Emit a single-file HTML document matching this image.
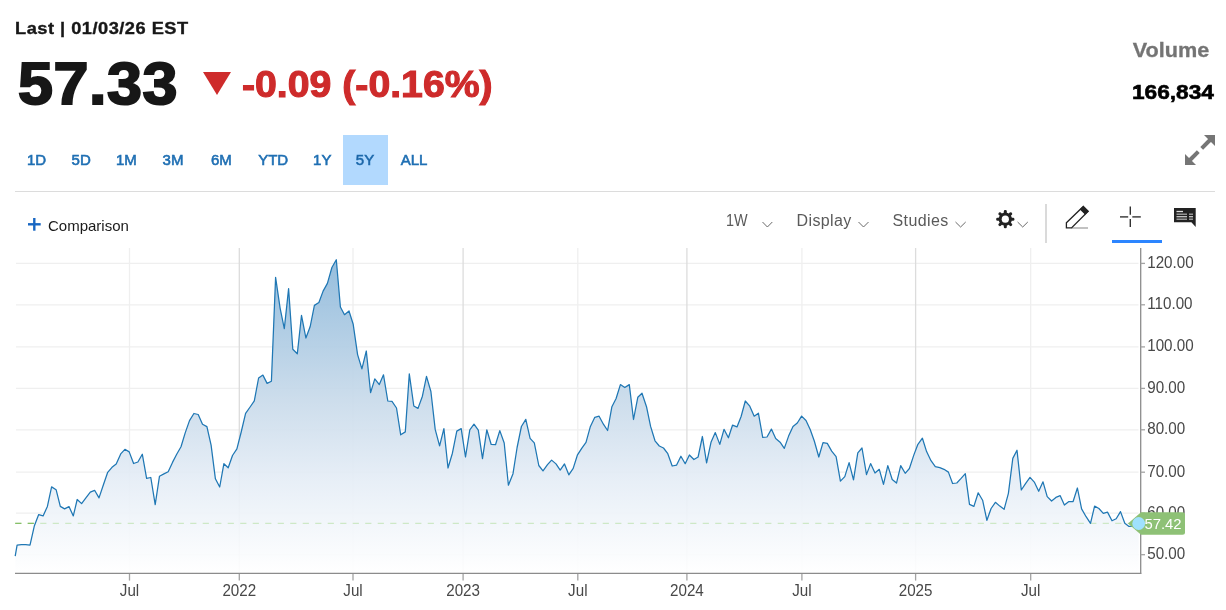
<!DOCTYPE html>
<html lang="en">
<head>
<meta charset="utf-8">
<title>Quote chart</title>
<style>
html,body{margin:0;padding:0;background:#fff;}
body{width:1226px;height:610px;position:relative;overflow:hidden;font-family:"Liberation Sans",sans-serif;color:#171717;}
.abs{position:absolute;white-space:nowrap;line-height:1;}
#last{left:15.3px;top:20px;font-size:16.2px;font-weight:bold;color:#171717;transform-origin:0 0;transform:scaleX(1.125);letter-spacing:.45px;-webkit-text-stroke:.35px #171717;}
#price{left:17.9px;top:55.2px;font-size:59px;font-weight:bold;color:#171717;transform-origin:0 0;letter-spacing:0.5px;transform:scale(1.065,.99);-webkit-text-stroke:2px #171717;}
#chg{left:241.6px;top:66.3px;font-size:37px;font-weight:bold;color:#ce2b2b;transform-origin:0 0;transform:scaleX(1.06);-webkit-text-stroke:1.1px #ce2b2b;}
#tri{left:203px;top:72px;width:0;height:0;border-left:14px solid transparent;border-right:14px solid transparent;border-top:23.5px solid #ce2b2b;}
#vol{right:16.3px;top:39px;font-size:21px;font-weight:bold;color:#747474;transform-origin:100% 0;transform:scaleX(1.03);-webkit-text-stroke:.3px #747474;}
#volv{right:11.6px;top:81px;font-size:21px;font-weight:bold;color:#000;transform-origin:100% 0;transform:scaleX(1.08);-webkit-text-stroke:.6px #000;}
.rng{top:152px;font-size:15px;color:#1f6fb3;font-weight:normal;-webkit-text-stroke:.6px #1f6fb3;transform:translateX(-50%);}
#sel{left:343px;top:135px;width:45px;height:50px;background:#b2d9fe;}
#hr{left:15px;top:191px;width:1200px;height:1px;background:#dcdcdc;}
.tb{top:213px;font-size:16px;color:#5a5a5a;letter-spacing:.4px;}
#cmp{left:48px;top:218px;font-size:15px;color:#1a1a1a;}
svg{position:absolute;left:0;top:0;}
.ax{font-family:"Liberation Sans",sans-serif;font-size:16px;fill:#484848;}
</style>
</head>
<body>
<div class="abs" id="last">Last | 01/03/26 EST</div>
<div class="abs" id="price">57.33</div>
<div class="abs" id="tri"></div>
<div class="abs" id="chg">-0.09 (-0.16%)</div>
<div class="abs" id="vol">Volume</div>
<div class="abs" id="volv">166,834</div>

<div class="abs" id="sel"></div>
<div class="abs rng" style="left:36.5px">1D</div>
<div class="abs rng" style="left:81.2px">5D</div>
<div class="abs rng" style="left:126.4px">1M</div>
<div class="abs rng" style="left:173px">3M</div>
<div class="abs rng" style="left:221.3px">6M</div>
<div class="abs rng" style="left:273.2px">YTD</div>
<div class="abs rng" style="left:322.3px">1Y</div>
<div class="abs rng" style="left:365px;color:#1d5f9e">5Y</div>
<div class="abs rng" style="left:414px">ALL</div>
<div class="abs" id="hr"></div>

<div class="abs" id="cmp">Comparison</div>
<div class="abs tb" id="t1w" style="left:725.5px;letter-spacing:0;transform:scaleX(.9);transform-origin:0 0">1W</div>
<div class="abs tb" id="tdisp" style="left:796.5px">Display</div>
<div class="abs tb" id="tstud" style="left:892.5px">Studies</div>

<svg width="1226" height="610" viewBox="0 0 1226 610">
<defs>
<linearGradient id="g" x1="0" y1="248" x2="0" y2="573" gradientUnits="userSpaceOnUse">
<stop offset="0" stop-color="rgb(135,181,217)" stop-opacity="0.92"/>
<stop offset="0.464" stop-color="rgb(200,218,234)" stop-opacity="0.92"/>
<stop offset="0.712" stop-color="rgb(229,237,246)" stop-opacity="0.92"/>
<stop offset="1" stop-color="#ffffff" stop-opacity="0.92"/>
</linearGradient>
</defs>
<!-- expand icon -->
<g fill="#757575" stroke="none">
<polygon points="1204,135 1215,135 1215,146"/>
<polygon points="1185,154 1185,165 1196,165"/>
</g>
<g stroke="#757575" stroke-width="4" fill="none">
<line x1="1210" y1="140" x2="1201.7" y2="148.3"/>
<line x1="1198.3" y1="151.7" x2="1190" y2="160"/>
</g>
<!-- plus -->
<g stroke="#1766c2" stroke-width="2.4">
<line x1="28" y1="224.3" x2="40.7" y2="224.3"/>
<line x1="34.3" y1="218" x2="34.3" y2="230.7"/>
</g>
<!-- chevrons -->
<g stroke="#6a6a6a" stroke-width="1" fill="none">
<polyline points="762.5,222 767.4,227 772.3,222"/>
<polyline points="858.5,222 863.5,227 868.5,222"/>
<polyline points="955.5,222 960.6,227 965.7,222"/>
<polyline points="1017.6,222 1022.7,227 1027.8,222"/>
</g>
<!-- gear -->
<g transform="translate(1005.3,219.2)" fill="#222">
<g id="teeth">
<rect x="-1.5" y="-9.1" width="3" height="18.2" rx="1.3"/>
<rect x="-1.5" y="-9.1" width="3" height="18.2" rx="1.3" transform="rotate(45)"/>
<rect x="-1.5" y="-9.1" width="3" height="18.2" rx="1.3" transform="rotate(90)"/>
<rect x="-1.5" y="-9.1" width="3" height="18.2" rx="1.3" transform="rotate(135)"/>
</g>
<circle r="6.6"/>
<circle r="3.6" fill="#fff"/>
</g>
<!-- separator -->
<rect x="1045" y="204" width="2" height="39" fill="#dadada"/>
<!-- pencil -->
<line x1="1071.5" y1="228" x2="1088" y2="228" stroke="#9a9a9a" stroke-width="1.2"/>
<polygon points="1066.4,222.8 1083.3,206.5 1088.2,211.3 1071.5,227.9 1066.4,227.9" fill="#fff" stroke="#222" stroke-width="1.3" stroke-linejoin="miter"/>
<polygon points="1080.2,209.4 1083.3,206.5 1088.2,211.3 1085.2,214.3" fill="#222" stroke="#222" stroke-width="1"/>
<!-- crosshair -->
<g stroke="#333" stroke-width="1.4">
<line x1="1130.3" y1="206.6" x2="1130.3" y2="214.8"/>
<line x1="1130.3" y1="219.1" x2="1130.3" y2="227"/>
<line x1="1120" y1="216.9" x2="1128.2" y2="216.9"/>
<line x1="1132.3" y1="216.9" x2="1140.8" y2="216.9"/>
</g>
<rect x="1112" y="240" width="50" height="3" fill="#2c85ff"/>
<!-- comment -->
<g>
<path d="M1174,208 H1195.7 V227 L1191.4,222.2 H1174 Z" fill="#222"/>
<g stroke="#aaa" stroke-width="1.3">
<line x1="1176.5" y1="211.5" x2="1183" y2="211.5" stroke="#ddd"/>
<line x1="1176.5" y1="214.2" x2="1187" y2="214.2"/><line x1="1189" y1="214.2" x2="1193" y2="214.2"/>
<line x1="1176.5" y1="216.7" x2="1187" y2="216.7" stroke="#ccc"/><line x1="1189" y1="216.7" x2="1193" y2="216.7" stroke="#ccc"/>
<line x1="1176.5" y1="219.2" x2="1187" y2="219.2"/><line x1="1189" y1="219.2" x2="1193" y2="219.2"/>
</g>
</g>

<!-- grid -->
<g stroke="#efefef" stroke-width="1.3">
<line x1="16" y1="263.4" x2="1138.5" y2="263.4"/>
<line x1="16" y1="304.8" x2="1138.5" y2="304.8"/>
<line x1="16" y1="346.9" x2="1138.5" y2="346.9"/>
<line x1="16" y1="388.4" x2="1138.5" y2="388.4"/>
<line x1="16" y1="429.8" x2="1138.5" y2="429.8"/>
<line x1="16" y1="472.2" x2="1138.5" y2="472.2"/>
<line x1="16" y1="513.2" x2="1138.5" y2="513.2"/>
<line x1="16" y1="554.7" x2="1138.5" y2="554.7"/>
<line x1="129.5" y1="248" x2="129.5" y2="573"/>
<line x1="353" y1="248" x2="353" y2="573"/>
<line x1="577.8" y1="248" x2="577.8" y2="573"/>
<line x1="801.9" y1="248" x2="801.9" y2="573"/>
<line x1="1030.7" y1="248" x2="1030.7" y2="573"/>
</g>
<g stroke="#dcdcdc" stroke-width="1.3">
<line x1="239.3" y1="248" x2="239.3" y2="573"/>
<line x1="463.1" y1="248" x2="463.1" y2="573"/>
<line x1="686.9" y1="248" x2="686.9" y2="573"/>
<line x1="915.6" y1="248" x2="915.6" y2="573"/>
</g>
<!-- current price dashed -->
<!-- area + line -->
<polygon points="15.2,573 15.2,556.1 17.1,545.1 21.4,544.7 25.7,544.7 30.0,545.1 34.4,525.7 38.7,514.6 43.1,515.9 47.4,506.4 51.6,486.9 56.1,489.7 60.3,506.4 64.6,508.9 69.0,506.6 73.3,515.9 77.2,499.5 81.6,503.6 85.9,497.9 90.3,492.1 94.6,490.3 99.0,497.9 103.5,484.5 107.7,472.3 112.0,467.3 116.2,464.0 120.7,453.9 124.9,449.3 129.2,451.9 133.6,463.5 137.9,462.0 142.3,454.2 146.6,478.3 150.8,477.5 155.2,504.6 159.5,476.2 163.9,473.9 168.2,471.8 172.5,462.4 176.7,454.2 181.0,446.8 185.2,432.9 189.5,420.6 193.9,413.5 198.2,414.5 202.5,424.3 206.9,426.6 211.1,445.2 215.4,478.8 219.7,487.0 223.9,463.7 228.2,467.8 232.5,455.5 236.9,448.9 241.2,432.0 245.6,413.4 250.1,407.0 254.3,400.8 258.6,378.0 262.9,375.1 267.1,383.4 271.4,381.3 275.6,277.4 280.1,308.1 284.3,328.7 288.6,288.6 292.8,349.3 297.3,353.8 301.5,315.4 305.9,338.0 310.2,326.5 314.4,305.4 318.9,302.5 323.1,291.1 327.4,283.4 331.9,267.5 336.3,259.7 340.4,307.0 344.5,314.7 349.0,311.0 353.2,324.3 357.6,354.6 361.9,368.9 366.3,351.0 370.6,392.6 374.8,378.9 379.3,384.6 383.5,374.8 387.8,401.0 392.0,401.3 396.5,408.0 400.7,434.8 405.3,431.9 409.3,373.9 413.8,406.0 418.0,408.4 422.4,396.2 426.5,376.4 430.9,391.5 435.2,429.4 439.6,445.8 443.9,428.6 448.0,468.0 452.4,453.2 456.8,431.1 461.2,428.6 465.5,457.0 469.8,429.9 474.0,424.2 478.3,430.2 482.5,458.6 486.8,429.8 491.2,444.5 495.5,444.7 499.8,430.6 504.2,443.0 508.4,485.2 513.0,473.7 517.1,447.5 521.4,426.5 525.8,419.3 530.1,438.4 534.3,442.9 538.8,465.5 543.0,470.9 547.5,464.7 551.6,460.1 556.0,463.9 560.2,470.1 564.5,463.9 568.8,474.8 573.2,468.4 577.5,454.8 581.7,448.3 586.0,442.4 590.4,426.4 594.8,417.3 599.1,416.2 603.4,424.2 607.6,430.5 611.9,406.7 616.1,398.5 620.4,384.6 624.8,387.5 629.3,384.6 633.5,419.5 637.8,397.3 642.0,393.2 646.5,406.7 650.6,426.4 655.0,440.8 659.3,446.0 663.5,448.0 667.8,453.7 672.2,466.0 676.5,465.2 680.9,456.2 685.2,463.7 689.4,455.0 693.9,459.5 698.1,457.0 702.4,436.5 706.6,462.9 711.1,441.9 715.3,432.6 719.8,444.4 724.0,429.3 728.4,437.8 732.5,425.2 737.0,426.9 741.1,416.5 745.3,401.0 749.8,406.2 754.2,416.2 758.4,413.2 762.7,437.3 767.0,437.0 771.4,429.1 775.7,438.6 780.1,442.2 784.3,448.4 788.6,436.1 793.0,426.6 797.3,423.0 801.6,416.1 806.0,420.5 810.2,429.5 814.3,441.0 818.8,457.0 823.0,442.6 827.3,443.4 831.7,451.1 836.1,456.6 840.4,481.1 844.8,476.6 849.1,462.6 853.5,479.8 857.8,452.8 862.0,448.0 866.5,474.6 870.6,463.6 875.0,473.0 879.3,469.3 883.5,484.4 887.8,465.6 892.2,479.5 896.5,483.1 900.7,465.6 905.2,473.3 909.4,468.5 913.7,455.4 917.9,444.3 922.4,438.2 926.6,451.6 931.0,460.7 935.3,466.7 939.8,467.7 944.0,469.3 948.4,472.1 952.6,483.5 956.8,483.0 961.1,478.4 965.3,473.7 969.5,504.4 973.9,506.4 978.2,492.8 982.6,500.2 986.9,520.3 991.1,508.5 995.4,502.3 999.8,506.1 1004.1,509.3 1008.4,493.3 1012.8,458.4 1017.0,450.2 1021.3,490.0 1025.7,483.4 1030.0,477.4 1034.3,482.1 1038.7,491.3 1043.0,481.8 1047.2,496.6 1051.6,501.0 1055.9,497.4 1060.2,495.7 1064.4,505.1 1068.9,501.5 1073.1,501.5 1077.4,488.0 1081.6,508.9 1086.1,516.7 1090.5,523.3 1094.6,506.1 1098.9,508.5 1103.3,513.4 1107.5,512.1 1112.0,520.8 1116.2,518.7 1120.5,511.6 1124.8,523.3 1129.0,526.4 1133.3,526.1 1138.7,523.5 1138.7,573" fill="url(#g)"/>
<line x1="15.2" y1="523.4" x2="1130" y2="523.4" stroke="#cde8c6" stroke-width="1.2" stroke-dasharray="6.2,6.3"/>
<line x1="15.2" y1="523.4" x2="34.9" y2="523.4" stroke="#86c068" stroke-width="1.2" stroke-dasharray="6.2,6.3"/>
<polyline points="15.2,556.1 17.1,545.1 21.4,544.7 25.7,544.7 30.0,545.1 34.4,525.7 38.7,514.6 43.1,515.9 47.4,506.4 51.6,486.9 56.1,489.7 60.3,506.4 64.6,508.9 69.0,506.6 73.3,515.9 77.2,499.5 81.6,503.6 85.9,497.9 90.3,492.1 94.6,490.3 99.0,497.9 103.5,484.5 107.7,472.3 112.0,467.3 116.2,464.0 120.7,453.9 124.9,449.3 129.2,451.9 133.6,463.5 137.9,462.0 142.3,454.2 146.6,478.3 150.8,477.5 155.2,504.6 159.5,476.2 163.9,473.9 168.2,471.8 172.5,462.4 176.7,454.2 181.0,446.8 185.2,432.9 189.5,420.6 193.9,413.5 198.2,414.5 202.5,424.3 206.9,426.6 211.1,445.2 215.4,478.8 219.7,487.0 223.9,463.7 228.2,467.8 232.5,455.5 236.9,448.9 241.2,432.0 245.6,413.4 250.1,407.0 254.3,400.8 258.6,378.0 262.9,375.1 267.1,383.4 271.4,381.3 275.6,277.4 280.1,308.1 284.3,328.7 288.6,288.6 292.8,349.3 297.3,353.8 301.5,315.4 305.9,338.0 310.2,326.5 314.4,305.4 318.9,302.5 323.1,291.1 327.4,283.4 331.9,267.5 336.3,259.7 340.4,307.0 344.5,314.7 349.0,311.0 353.2,324.3 357.6,354.6 361.9,368.9 366.3,351.0 370.6,392.6 374.8,378.9 379.3,384.6 383.5,374.8 387.8,401.0 392.0,401.3 396.5,408.0 400.7,434.8 405.3,431.9 409.3,373.9 413.8,406.0 418.0,408.4 422.4,396.2 426.5,376.4 430.9,391.5 435.2,429.4 439.6,445.8 443.9,428.6 448.0,468.0 452.4,453.2 456.8,431.1 461.2,428.6 465.5,457.0 469.8,429.9 474.0,424.2 478.3,430.2 482.5,458.6 486.8,429.8 491.2,444.5 495.5,444.7 499.8,430.6 504.2,443.0 508.4,485.2 513.0,473.7 517.1,447.5 521.4,426.5 525.8,419.3 530.1,438.4 534.3,442.9 538.8,465.5 543.0,470.9 547.5,464.7 551.6,460.1 556.0,463.9 560.2,470.1 564.5,463.9 568.8,474.8 573.2,468.4 577.5,454.8 581.7,448.3 586.0,442.4 590.4,426.4 594.8,417.3 599.1,416.2 603.4,424.2 607.6,430.5 611.9,406.7 616.1,398.5 620.4,384.6 624.8,387.5 629.3,384.6 633.5,419.5 637.8,397.3 642.0,393.2 646.5,406.7 650.6,426.4 655.0,440.8 659.3,446.0 663.5,448.0 667.8,453.7 672.2,466.0 676.5,465.2 680.9,456.2 685.2,463.7 689.4,455.0 693.9,459.5 698.1,457.0 702.4,436.5 706.6,462.9 711.1,441.9 715.3,432.6 719.8,444.4 724.0,429.3 728.4,437.8 732.5,425.2 737.0,426.9 741.1,416.5 745.3,401.0 749.8,406.2 754.2,416.2 758.4,413.2 762.7,437.3 767.0,437.0 771.4,429.1 775.7,438.6 780.1,442.2 784.3,448.4 788.6,436.1 793.0,426.6 797.3,423.0 801.6,416.1 806.0,420.5 810.2,429.5 814.3,441.0 818.8,457.0 823.0,442.6 827.3,443.4 831.7,451.1 836.1,456.6 840.4,481.1 844.8,476.6 849.1,462.6 853.5,479.8 857.8,452.8 862.0,448.0 866.5,474.6 870.6,463.6 875.0,473.0 879.3,469.3 883.5,484.4 887.8,465.6 892.2,479.5 896.5,483.1 900.7,465.6 905.2,473.3 909.4,468.5 913.7,455.4 917.9,444.3 922.4,438.2 926.6,451.6 931.0,460.7 935.3,466.7 939.8,467.7 944.0,469.3 948.4,472.1 952.6,483.5 956.8,483.0 961.1,478.4 965.3,473.7 969.5,504.4 973.9,506.4 978.2,492.8 982.6,500.2 986.9,520.3 991.1,508.5 995.4,502.3 999.8,506.1 1004.1,509.3 1008.4,493.3 1012.8,458.4 1017.0,450.2 1021.3,490.0 1025.7,483.4 1030.0,477.4 1034.3,482.1 1038.7,491.3 1043.0,481.8 1047.2,496.6 1051.6,501.0 1055.9,497.4 1060.2,495.7 1064.4,505.1 1068.9,501.5 1073.1,501.5 1077.4,488.0 1081.6,508.9 1086.1,516.7 1090.5,523.3 1094.6,506.1 1098.9,508.5 1103.3,513.4 1107.5,512.1 1112.0,520.8 1116.2,518.7 1120.5,511.6 1124.8,523.3 1129.0,526.4 1133.3,526.1 1138.7,523.5" fill="none" stroke="#1f77b4" stroke-width="1.25" stroke-linejoin="round"/>
<!-- axes -->
<g stroke="#8c8c8c" stroke-width="1.3" fill="none">
<line x1="15" y1="573.3" x2="1141.3" y2="573.3"/>
<line x1="1140.7" y1="248" x2="1140.7" y2="573.9"/>
</g>
<g stroke="#a3a3a3" stroke-width="1.3" fill="none">
<line x1="129.5" y1="574" x2="129.5" y2="580.6"/>
<line x1="239.3" y1="574" x2="239.3" y2="580.6"/>
<line x1="353" y1="574" x2="353" y2="580.6"/>
<line x1="463.1" y1="574" x2="463.1" y2="580.6"/>
<line x1="577.8" y1="574" x2="577.8" y2="580.6"/>
<line x1="686.9" y1="574" x2="686.9" y2="580.6"/>
<line x1="801.9" y1="574" x2="801.9" y2="580.6"/>
<line x1="915.6" y1="574" x2="915.6" y2="580.6"/>
<line x1="1030.7" y1="574" x2="1030.7" y2="580.6"/>
<line x1="1140.7" y1="263.4" x2="1145" y2="263.4"/>
<line x1="1140.7" y1="304.8" x2="1145" y2="304.8"/>
<line x1="1140.7" y1="346.9" x2="1145" y2="346.9"/>
<line x1="1140.7" y1="388.4" x2="1145" y2="388.4"/>
<line x1="1140.7" y1="429.8" x2="1145" y2="429.8"/>
<line x1="1140.7" y1="472.2" x2="1145" y2="472.2"/>
<line x1="1140.7" y1="513.2" x2="1145" y2="513.2"/>
<line x1="1140.7" y1="554.7" x2="1145" y2="554.7"/>
</g>
<g class="ax" text-anchor="middle">
<text transform="translate(129.5,595.9) scale(.95,1)">Jul</text>
<text transform="translate(239.3,595.9) scale(.95,1)">2022</text>
<text transform="translate(353,595.9) scale(.95,1)">Jul</text>
<text transform="translate(463.1,595.9) scale(.95,1)">2023</text>
<text transform="translate(577.8,595.9) scale(.95,1)">Jul</text>
<text transform="translate(686.9,595.9) scale(.95,1)">2024</text>
<text transform="translate(801.9,595.9) scale(.95,1)">Jul</text>
<text transform="translate(915.6,595.9) scale(.95,1)">2025</text>
<text transform="translate(1030.7,595.9) scale(.95,1)">Jul</text>
</g>
<g class="ax">
<text transform="translate(1147.2,267.8) scale(.95,1)">120.00</text>
<text transform="translate(1147.2,309.2) scale(.95,1)">110.00</text>
<text transform="translate(1147.2,351.3) scale(.95,1)">100.00</text>
<text transform="translate(1147.2,392.8) scale(.95,1)">90.00</text>
<text transform="translate(1147.2,434.2) scale(.95,1)">80.00</text>
<text transform="translate(1147.2,476.6) scale(.95,1)">70.00</text>
<text transform="translate(1147.2,517.6) scale(.95,1)">60.00</text>
<text transform="translate(1147.2,559.1) scale(.95,1)">50.00</text>
</g>
<!-- price label -->
<path d="M1128,523.4 L1141,512.2 H1182.5 Q1185,512.2 1185,514.7 V532.3 Q1185,534.8 1182.5,534.8 H1141 Z" fill="#8ec176"/>
<circle cx="1138.7" cy="523.5" r="6.4" fill="#9fe1fd"/>
<text transform="translate(1144.5,528.9) scale(.99,1)" font-family="Liberation Sans, sans-serif" font-size="15" fill="#fff">57.42</text>
</svg>
</body>
</html>
